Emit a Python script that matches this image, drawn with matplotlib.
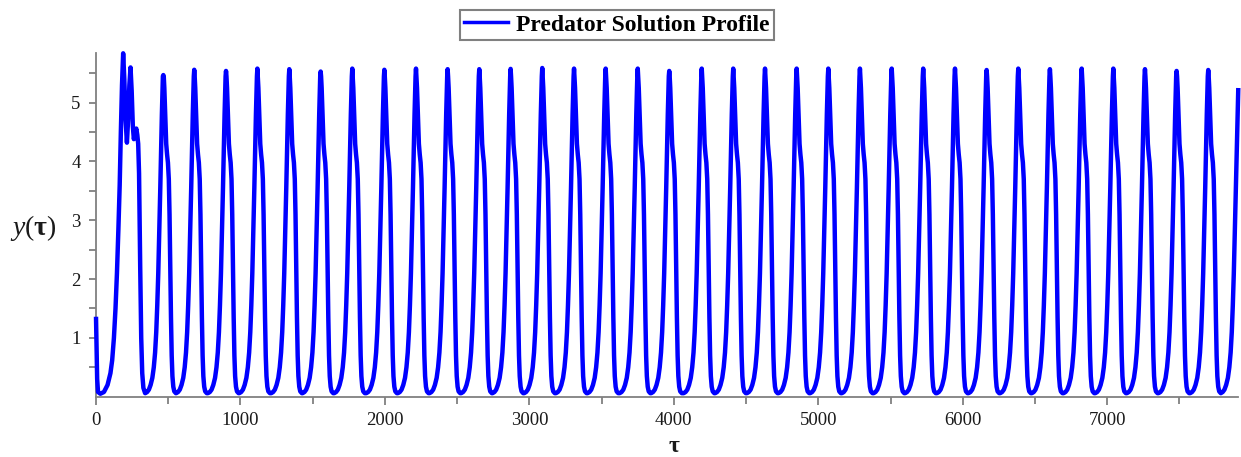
import matplotlib
matplotlib.use('Agg')
import matplotlib.pyplot as plt
from matplotlib.lines import Line2D

# ---------------- data ----------------
# initial transient (tau, y)
trans_tau = [0, 8, 14, 30, 55, 80, 100, 112, 124, 135, 145, 155, 164, 172, 180, 188, 196, 205,
             214, 222, 231, 239, 247, 255, 262, 272, 279, 286, 292, 298, 306, 313, 320, 328, 340]
trans_y = [1.36, 0.3, 0.08, 0.05, 0.08, 0.2, 0.4, 0.62, 1.0, 1.5, 2.1, 2.85, 3.6, 4.5, 5.3, 5.84,
           5.4, 4.7, 4.32, 4.7, 5.3, 5.6, 5.2, 4.6, 4.38, 4.5, 4.56, 4.45, 4.3, 3.8, 2.2, 1.0,
           0.4, 0.15, 0.06]

# regular oscillation peaks (tau of each maximum, value of each maximum)
peak_tau = [466, 680, 900, 1117, 1338, 1555, 1774, 1996, 2215, 2434, 2653, 2870, 3089, 3309,
            3528, 3750, 3968, 4193, 4411, 4631, 4850, 5069, 5288, 5508, 5726, 5946, 6165, 6384,
            6603, 6823, 7042, 7261, 7480, 7699]
peak_y = [5.47, 5.56, 5.54, 5.58, 5.57, 5.53, 5.58, 5.56, 5.58,
          5.57, 5.57, 5.575, 5.59, 5.58, 5.58, 5.58, 5.54,
          5.58, 5.58, 5.58, 5.58, 5.58, 5.58, 5.58, 5.58, 5.58,
          5.556, 5.58, 5.57, 5.58, 5.58, 5.57, 5.54, 5.556]

# shape of one cycle around its maximum (offset in tau, y)
rise_off = [-125, -112, -100, -88, -76, -66, -57, -49, -42, -35, -28, -21, -15, -10, -6, -3]
rise_y = [0.06, 0.08, 0.12, 0.2, 0.32, 0.5, 0.75, 1.1, 1.55, 2.1, 2.8, 3.55, 4.25, 4.8, 5.2, 5.45]
fall_off = [3, 7, 11, 15, 20, 26, 32, 38, 43, 48, 53, 58, 63, 69, 76, 87]
fall_y = [5.45, 5.25, 4.95, 4.6, 4.3, 4.12, 3.98, 3.7, 3.1, 2.2, 1.35, 0.7, 0.35, 0.17, 0.09, 0.06]

# final partial rise at the right edge
tail_tau = [7799, 7811, 7823, 7835, 7845, 7854, 7862, 7869, 7876, 7883, 7890, 7897, 7903, 7907]
tail_y = [0.08, 0.12, 0.2, 0.32, 0.5, 0.75, 1.1, 1.55, 2.1, 2.8, 3.55, 4.25, 4.8, 5.25]

legend_label = "Predator Solution Profile"
x_major = [0, 1000, 2000, 3000, 4000, 5000, 6000, 7000]
y_major = [1, 2, 3, 4, 5]

# ---------------- build the polyline ----------------
tau = list(trans_tau)
y = list(trans_y)
for tp, yp in zip(peak_tau, peak_y):
    for o, v in zip(rise_off, rise_y):
        tau.append(tp + o); y.append(min(v, yp))
    tau.append(tp); y.append(yp)
    for o, v in zip(fall_off, fall_y):
        tau.append(tp + o); y.append(min(v, yp))
tau += tail_tau
y += tail_y

# ---------------- figure ----------------
plt.rcParams['font.family'] = ['Liberation Serif', 'DejaVu Serif']
plt.rcParams['mathtext.fontset'] = 'custom'
plt.rcParams['mathtext.rm'] = 'Liberation Serif'
plt.rcParams['mathtext.it'] = 'Liberation Serif:italic'
plt.rcParams['mathtext.bf'] = 'Liberation Serif:bold'

W, H = 1241, 457
fig = plt.figure(figsize=(W / 100, H / 100), dpi=100)
x0, x1, ytop, ybot = 96, 1238, 53.3, 396.7
ax = fig.add_axes([x0 / W, (H - ybot) / H, (x1 - x0) / W, (ybot - ytop) / H])

blue = '#0000FF'
ax.plot(tau, y, color=blue, lw=3.2, clip_on=False, solid_joinstyle='round',
        solid_capstyle='butt', zorder=3)

ax.set_xlim(0, 7905)
ax.set_ylim(0, 5.84)

gray = '#808080'
for s in ['top', 'right']:
    ax.spines[s].set_visible(False)
for s in ['left', 'bottom']:
    ax.spines[s].set_color(gray)
    ax.spines[s].set_linewidth(1.3)
    ax.spines[s].set_zorder(2)

ax.set_xticks(x_major)
ax.set_xticks([500 + 1000 * i for i in range(8)], minor=True)
ax.set_yticks(y_major)
ax.set_yticks([0.5 + i for i in range(6)], minor=True)
ax.set_xticklabels([str(v) for v in x_major])
ax.set_yticklabels([str(v) for v in y_major])

ax.tick_params(axis='x', which='major', direction='out', length=6, width=1.3, color=gray,
               labelsize=13.5, pad=5, labelcolor='#1a1a1a')
ax.tick_params(axis='x', which='minor', direction='out', length=5, width=1.3, color=gray)
ax.tick_params(axis='y', which='major', direction='out', length=5, width=1.3, color=gray,
               labelsize=13.5, pad=6, labelcolor='#1a1a1a')
ax.tick_params(axis='y', which='minor', direction='out', length=5, width=1.3, color=gray)

fig.text(674 / W, 1 - 446 / H, 'τ', fontsize=17, fontweight='bold', ha='center', va='center',
         color='#1a1a1a')
fig.text(33 / W, 1 - 228 / H, r'$\mathit{y}(\mathbf{\tau})$', fontsize=20, ha='center',
         va='center', color='#1a1a1a')

handle = Line2D([0], [0], color=blue, lw=2.5)
leg = fig.legend([handle], [legend_label], loc='center',
                 bbox_to_anchor=(617 / W, 1 - 25 / H),
                 prop={'family': 'Liberation Serif', 'weight': 'bold', 'size': 17},
                 frameon=True, fancybox=False, edgecolor=gray, framealpha=1,
                 handlelength=1.85, handletextpad=0.35, borderpad=0.2, borderaxespad=0)
leg.get_frame().set_linewidth(1.5)

fig.savefig('out.png', dpi=100)
